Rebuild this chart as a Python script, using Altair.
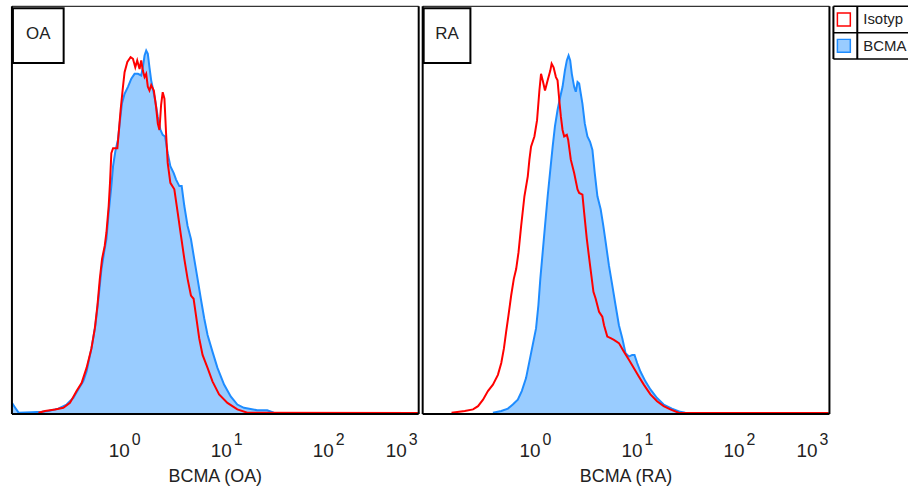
import altair as alt
import pandas as pd

FONT = "Liberation Sans"
PANELS = ["OA", "RA"]
SERIES = ["Isotyp", "BCMA"]

# x: log10 BCMA fluorescence, y: % of plot height (histogram)
OA_ISO_X = [-0.852, -0.787, -0.689, -0.608, -0.543, -0.478, -0.429, -0.380, -0.332, -0.299, -0.273, -0.250, -0.228,
            -0.202, -0.185, -0.163, -0.150, -0.137, -0.120, -0.078, -0.065, -0.046, -0.023, -0.007, 0.020, 0.052,
            0.075, 0.098, 0.117, 0.140, 0.156, 0.172, 0.189, 0.205, 0.221, 0.237, 0.254, 0.280, 0.302, 0.319, 0.335,
            0.351, 0.367, 0.384, 0.400, 0.416, 0.442, 0.481, 0.514, 0.546, 0.579, 0.611, 0.644, 0.670, 0.693, 0.725,
            0.758, 0.807, 0.855, 0.920, 1.002, 1.099, 1.197, 2.870]
OA_ISO_Y = [0.1, 0.5, 0.9, 1.3, 2.5, 5.4, 7.4, 11.1, 15.9, 20.8, 26.5, 33.0, 37.9, 41.1, 44.4, 50.9, 56.6, 63.9, 65.1,
            65.1, 68.8, 74.5, 80.2, 83.8, 86.3, 87.5, 87.1, 85.0, 86.7, 84.6, 86.7, 84.2, 82.6, 83.4, 80.2, 79.3, 80.6,
            79.3, 75.3, 71.2, 69.6, 75.7, 78.9, 77.3, 68.8, 61.5, 56.6, 55.0, 49.3, 43.6, 37.9, 33.0, 28.9, 28.1, 24.1,
            18.4, 14.3, 11.1, 7.8, 4.6, 2.5, 0.9, 0.1, 0.0]

OA_BCMA_X = [-1.112, -1.080, -1.047, -0.917, -0.820, -0.754, -0.657, -0.576, -0.511, -0.462, -0.413, -0.380, -0.332,
             -0.293, -0.260, -0.234, -0.208, -0.185, -0.163, -0.137, -0.120, -0.098, -0.072, -0.055, -0.033, -0.007,
             0.026, 0.059, 0.091, 0.124, 0.156, 0.172, 0.189, 0.205, 0.221, 0.237, 0.254, 0.270, 0.293, 0.319, 0.345,
             0.367, 0.390, 0.416, 0.442, 0.475, 0.498, 0.530, 0.553, 0.579, 0.611, 0.644, 0.676, 0.709, 0.741, 0.774,
             0.807, 0.855, 0.904, 0.969, 1.034, 1.099, 1.164, 1.294, 1.392, 1.457, 2.870]
OA_BCMA_Y = [2.5, 1.3, 0.1, 0.2, 0.3, 0.5, 1.1, 2.1, 3.7, 5.8, 7.8, 10.2, 15.9, 21.6, 28.9, 35.4, 39.5, 42.8, 49.3,
             55.8, 60.7, 64.3, 67.2, 71.2, 76.1, 78.5, 80.2, 82.2, 83.4, 83.4, 83.0, 85.0, 87.9, 89.1, 88.3, 85.0, 81.8,
             79.8, 76.9, 72.8, 69.6, 68.4, 68.0, 63.9, 60.7, 59.0, 57.4, 55.8, 55.8, 50.9, 46.0, 42.8, 37.9, 33.0, 28.1,
             23.3, 19.2, 15.1, 11.1, 7.0, 4.1, 2.1, 1.3, 0.7, 0.7, 0.1, 0.0]

RA_ISO_X = [-0.829, -0.699, -0.618, -0.569, -0.520, -0.472, -0.423, -0.374, -0.341, -0.315, -0.293, -0.270, -0.244,
            -0.218, -0.195, -0.172, -0.146, -0.114, -0.081, -0.065, -0.049, -0.016, 0.010, 0.033, 0.049, 0.065, 0.088,
            0.114, 0.140, 0.153, 0.172, 0.195, 0.211, 0.228, 0.244, 0.260, 0.276, 0.302, 0.315, 0.341, 0.374, 0.407,
            0.423, 0.455, 0.472, 0.498, 0.530, 0.563, 0.585, 0.618, 0.650, 0.667, 0.699, 0.732, 0.764, 0.813, 0.862,
            0.911, 0.959, 1.008, 1.057, 1.122, 1.187, 1.252, 1.317, 1.398, 2.870]
RA_ISO_Y = [0.1, 0.5, 0.9, 1.7, 3.3, 5.4, 7.0, 9.4, 12.3, 15.9, 20.0, 24.1, 28.9, 33.0, 35.4, 39.5, 46.0, 53.3, 58.2,
            62.3, 65.5, 68.0, 72.0, 79.3, 83.4, 81.8, 79.3, 81.8, 84.2, 85.9, 85.0, 82.6, 81.8, 76.9, 72.8, 69.6, 68.0,
            68.4, 67.2, 62.3, 59.0, 55.0, 54.1, 53.7, 49.3, 42.8, 36.3, 29.8, 28.1, 24.9, 23.7, 21.6, 18.8, 18.4, 18.0,
            17.2, 15.1, 13.1, 11.1, 9.0, 7.0, 4.6, 2.9, 1.7, 0.9, 0.1, 0.0]

RA_BCMA_X = [-0.423, -0.341, -0.276, -0.228, -0.179, -0.140, -0.098, -0.065, -0.033, 0.000, 0.023, 0.042, 0.065,
             0.088, 0.114, 0.140, 0.163, 0.185, 0.211, 0.237, 0.260, 0.283, 0.302, 0.319, 0.335, 0.351, 0.374, 0.390,
             0.407, 0.423, 0.439, 0.455, 0.478, 0.504, 0.530, 0.553, 0.576, 0.602, 0.634, 0.660, 0.683, 0.715, 0.748,
             0.780, 0.813, 0.846, 0.878, 0.911, 0.943, 0.966, 0.992, 1.024, 1.073, 1.122, 1.187, 1.252, 1.333, 1.415,
             1.463, 2.870]
RA_BCMA_Y = [0.1, 0.5, 1.1, 2.1, 3.3, 5.4, 8.6, 12.7, 16.7, 20.8, 26.5, 33.0, 39.5, 46.0, 53.3, 59.8, 65.5, 70.4,
             74.5, 77.7, 80.2, 84.2, 86.7, 87.9, 86.7, 83.4, 80.2, 79.0, 81.4, 81.0, 78.5, 76.1, 71.2, 68.0, 66.7, 64.7,
             59.0, 53.3, 50.1, 46.0, 42.0, 36.3, 31.4, 26.5, 21.6, 18.4, 14.7, 13.9, 14.3, 14.3, 12.3, 10.2, 7.8, 5.8,
             3.7, 2.1, 1.1, 0.3, 0.1, 0.0]

TICK_EXP = [0, 1, 2, 3]
X_MIN, X_MAX = -1.112, 2.878

# styles
W, H = 409, 409
ISO_COLOR = "#FF0000"
BCMA_LINE = "#1E8CFF"
BCMA_FILL = "#99CCFF"
BOX_W = {"OA": 52, "RA": 48}
LW, LH = 75, 53

xs = alt.Scale(domain=[X_MIN, X_MAX], nice=False, zero=False)
ys = alt.Scale(domain=[0, 100], nice=False)
dummy = pd.DataFrame({"k": [0]})


def panel(name, iso_x, iso_y, bc_x, bc_y):
    iso = pd.DataFrame({"x": iso_x, "y": iso_y})
    bc = pd.DataFrame({"x": bc_x, "y": bc_y})
    X = alt.X("x:Q", scale=xs, axis=None)
    Y = alt.Y("y:Q", scale=ys, axis=None)
    area = alt.Chart(bc).mark_area(color=BCMA_FILL, opacity=1).encode(X, Y)
    bline = alt.Chart(bc).mark_line(color=BCMA_LINE, strokeWidth=2).encode(X, Y)
    iline = alt.Chart(iso).mark_line(color=ISO_COLOR, strokeWidth=2).encode(X, Y)

    def rule(width, **enc):
        return alt.Chart(dummy).mark_rule(color="black", strokeWidth=width).encode(**enc)

    top = rule(1, x=alt.value(0), x2=alt.value(W), y=alt.value(0))
    left = rule(2, x=alt.value(0), y=alt.value(0), y2=alt.value(H + 1))
    right = rule(2, x=alt.value(W), y=alt.value(0), y2=alt.value(H + 1))
    bottom = rule(2, x=alt.value(0), x2=alt.value(W), y=alt.value(H + 1))

    bw = BOX_W[name]
    box = alt.Chart(dummy).mark_rect(fill="white", stroke="black", strokeWidth=2).encode(
        x=alt.value(1), x2=alt.value(bw), y=alt.value(2), y2=alt.value(57))
    box_t = alt.Chart(dummy).mark_text(font=FONT, fontSize=17, align="center", baseline="alphabetic",
                                       color="#222").encode(
        x=alt.value((1 + bw) / 2), y=alt.value(33), text=alt.value(name))

    tick_df = pd.DataFrame({"e": TICK_EXP})
    tick_df["pos"] = tick_df["e"].clip(upper=X_MAX)
    tick_df["sup"] = tick_df["e"].astype(str)
    inside = tick_df[tick_df["e"] <= X_MAX]
    clamped = tick_df[tick_df["e"] > X_MAX]
    TX = alt.X("pos:Q", scale=xs, axis=None)
    base_in = alt.Chart(inside).mark_text(font=FONT, fontSize=19, dx=-6, align="center", baseline="alphabetic",
                                          color="#222").encode(TX, y=alt.value(H + 44), text=alt.value("10"))
    sup_in = alt.Chart(inside).mark_text(font=FONT, fontSize=16, dx=11, align="center", baseline="alphabetic",
                                         color="#222").encode(TX, y=alt.value(H + 32), text="sup:N")
    base_cl = alt.Chart(clamped).mark_text(font=FONT, fontSize=19, dx=-12, align="right", baseline="alphabetic",
                                           color="#222").encode(TX, y=alt.value(H + 44), text=alt.value("10"))
    sup_cl = alt.Chart(clamped).mark_text(font=FONT, fontSize=16, dx=-1, align="right", baseline="alphabetic",
                                          color="#222").encode(TX, y=alt.value(H + 32), text="sup:N")
    title = alt.Chart(dummy).mark_text(font=FONT, fontSize=18, align="center", baseline="alphabetic",
                                       color="#222").encode(
        x=alt.value(W / 2), y=alt.value(H + 69), text=alt.value(f"BCMA ({name})"))

    return alt.layer(area, bline, iline, top, left, right, bottom, box, box_t,
                     base_in, sup_in, base_cl, sup_cl, title).properties(width=W, height=H)


p_oa = panel("OA", OA_ISO_X, OA_ISO_Y, OA_BCMA_X, OA_BCMA_Y)
p_ra = panel("RA", RA_ISO_X, RA_ISO_Y, RA_BCMA_X, RA_BCMA_Y)

leg_df = pd.DataFrame({"series": SERIES})
Yl = alt.Y("series:N", sort=SERIES, axis=None)
swatch = alt.Chart(leg_df).mark_square(size=169, strokeWidth=1.5, opacity=1).encode(
    x=alt.value(10.5), y=Yl,
    fill=alt.Fill("series:N", scale=alt.Scale(domain=SERIES, range=["#FFFFFF", BCMA_FILL]), legend=None),
    stroke=alt.Stroke("series:N", scale=alt.Scale(domain=SERIES, range=[ISO_COLOR, BCMA_LINE]), legend=None))
leg_text = alt.Chart(leg_df).mark_text(font=FONT, fontSize=15, align="left", baseline="middle",
                                       color="#222").encode(x=alt.value(30), y=Yl, text="series:N")


def lrule(width, **enc):
    return alt.Chart(dummy).mark_rule(color="black", strokeWidth=width).encode(**enc)


leg = alt.layer(
    swatch, leg_text,
    lrule(1.5, x=alt.value(0), x2=alt.value(LW), y=alt.value(0)),
    lrule(1.5, x=alt.value(0), x2=alt.value(LW), y=alt.value(LH / 2)),
    lrule(1.5, x=alt.value(0), x2=alt.value(LW), y=alt.value(LH)),
    lrule(2, x=alt.value(0), y=alt.value(0), y2=alt.value(LH)),
    lrule(2, x=alt.value(24), y=alt.value(0), y2=alt.value(LH)),
).properties(width=LW, height=LH)

chart = alt.hconcat(p_oa, p_ra, leg, spacing=-2).properties(
    padding={"left": 8, "top": 4, "right": 0, "bottom": 0}
).configure_view(strokeWidth=0)

chart.save("out.html", embed_options={"renderer": "svg", "actions": False})
